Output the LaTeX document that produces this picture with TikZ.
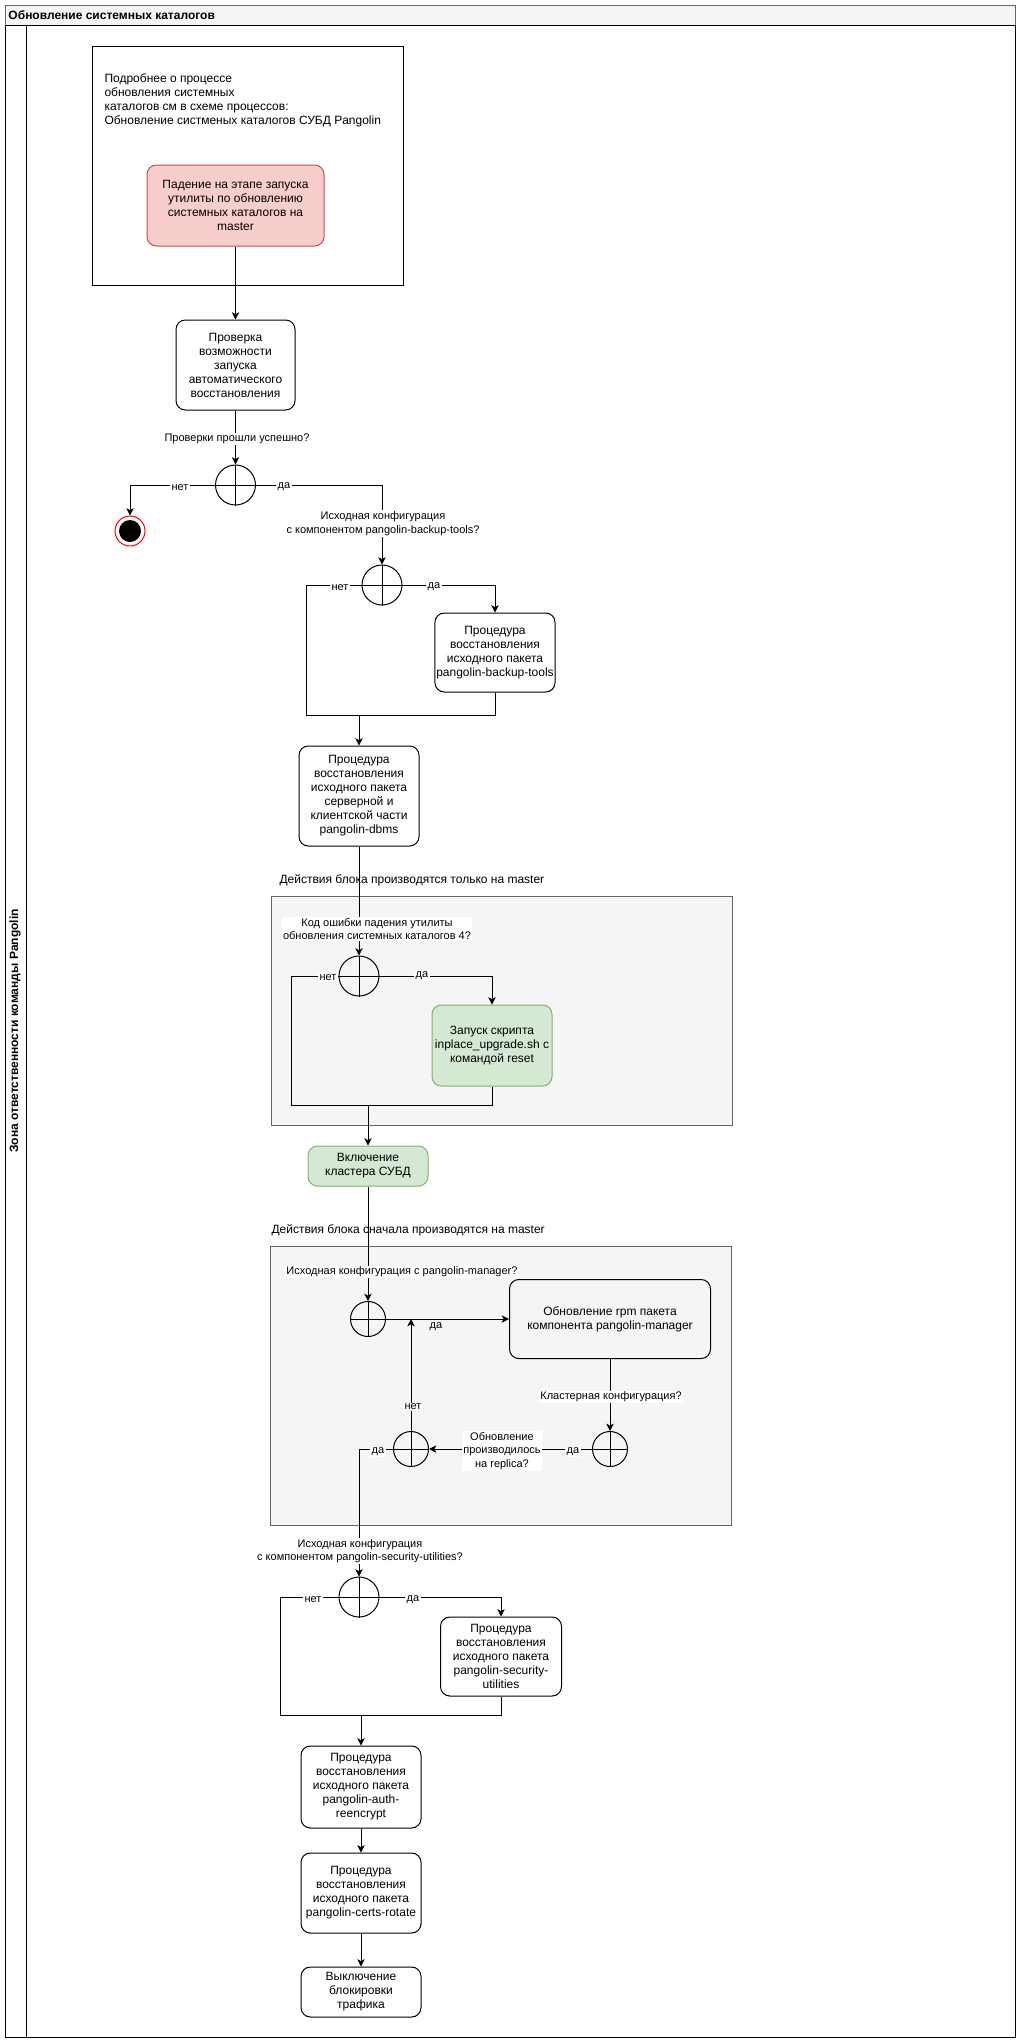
\documentclass[tikz,border=0pt]{standalone}
\usepackage{fontspec}
\setmainfont{Liberation Sans}
\usetikzlibrary{arrows.meta}
\definecolor{failfill}{HTML}{F8CECC}
\definecolor{faildraw}{HTML}{B85450}
\definecolor{okfill}{HTML}{D5E8D4}
\definecolor{okdraw}{HTML}{82B366}
\definecolor{grpfill}{HTML}{F5F5F5}
\definecolor{grpdraw}{HTML}{666666}

\begin{document}
\begin{tikzpicture}[x=0.75pt, y=-0.75pt, line width=0.75pt,
  font=\fontsize{9}{10.5}\selectfont,
  proc/.style={draw, rounded corners=7pt, align=center, inner sep=1pt},
  dec/.style={draw, circle, minimum size=#1, inner sep=0pt},
  dec/.default=30pt,
  lbl/.style={fill=white, inner sep=1pt, align=center, font=\fontsize{8.25}{10}\selectfont},
  note/.style={anchor=west, inner sep=0pt, align=left},
  grp/.style={draw=grpdraw, fill=grpfill, anchor=north west, inner sep=0pt},
  arr/.style={-{Stealth[length=5.5pt, width=5.5pt, inset=1.5pt]}}]
  \useasboundingbox (0,0) rectangle (1021,2042);
  % pool and lane
  \node[draw=grpdraw, fill=grpfill, anchor=north west, inner sep=0pt,
    minimum width=757.5pt, minimum height=15pt] (pool) at (5,5) {};
  \node[note, font=\fontsize{9}{10.5}\selectfont\bfseries] (pooltitle) at (8,15) {Обновление системных каталогов};
  \node[draw, anchor=north west, inner sep=0pt,
    minimum width=757.5pt, minimum height=1509pt] (lane) at (5,25) {};
  \draw (26,25) -- (26,2037);
  \node[rotate=90, inner sep=0pt, font=\fontsize{9}{10.5}\selectfont\bfseries] (lanetitle) at (15,1031)
    {Зона ответственности команды Pangolin};
  % blocks
  \node[draw, anchor=north west, inner sep=0pt, minimum width=233.25pt, minimum height=179.25pt] (info) at (92,46) {};
  \node[note] (infotext) at (104,100.5) {Подробнее о процессе\\обновления системных\\каталогов см в схеме процессов:\\Обновление систменых каталогов СУБД Pangolin};
  \node[grp, minimum width=345.75pt, minimum height=171.75pt] (blk1) at (271,896) {};
  \node[note] (blk1title) at (279,880) {Действия блока производятся только на master};
  \node[grp, minimum width=345.75pt, minimum height=209.25pt] (blk2) at (270,1246) {};
  \node[note] (blk2title) at (271,1230) {Действия блока сначала производятся на master};
  % steps
  \node[proc, fill=failfill, draw=faildraw, minimum width=132.75pt, minimum height=60.75pt] (fail) at (235.5,205.5)
    {Падение на этапе запуска\\утилиты по обновлению\\системных каталогов на\\master};
  \node[proc, minimum width=89.25pt, minimum height=67.5pt] (check) at (235.5,365)
    {Проверка\\возможности\\запуска\\автоматического\\восстановления};
  \node[dec] (d1) at (235.5,485) {};
  \node[circle, draw=red, fill=white, minimum size=22.5pt, inner sep=0pt] (stop) at (130,531) {};
  \fill (stop.center) circle[radius=8.25pt];
  \node[dec] (d2) at (382,585) {};
  \node[proc, minimum width=90pt, minimum height=59.25pt] (backup) at (495,652.5)
    {Процедура\\восстановления\\исходного пакета\\pangolin-backup-tools};
  \node[proc, minimum width=90pt, minimum height=75pt] (dbms) at (359,796)
    {Процедура\\восстановления\\исходного пакета\\серверной и\\клиентской части\\pangolin-dbms};
  \node[dec] (d3) at (359,976) {};
  \node[proc, fill=okfill, draw=okdraw, minimum width=90pt, minimum height=60.75pt] (reset) at (492,1045.5)
    {Запуск скрипта\\inplace\_upgrade.sh с\\командой reset};
  \node[proc, fill=okfill, draw=okdraw, minimum width=90pt, minimum height=30pt] (cluster) at (368,1166)
    {Включение\\кластера СУБД};
  \node[dec=26.25pt] (d4) at (368,1319) {};
  \node[proc, minimum width=150.75pt, minimum height=59.25pt] (manager) at (610,1319)
    {Обновление rpm пакета\\компонента pangolin-manager};
  \node[dec=26.25pt] (d5) at (610,1449) {};
  \node[dec=26.25pt] (d6) at (411,1449) {};
  \node[dec] (d7) at (359,1597) {};
  \node[proc, minimum width=90.75pt, minimum height=59.25pt] (security) at (501,1656.5)
    {Процедура\\восстановления\\исходного пакета\\pangolin-security-\\utilities};
  \node[proc, minimum width=90pt, minimum height=61.5pt] (auth) at (361,1787)
    {Процедура\\восстановления\\исходного пакета\\pangolin-auth-\\reencrypt};
  \node[proc, minimum width=90pt, minimum height=60pt] (certs) at (361,1893)
    {Процедура\\восстановления\\исходного пакета\\pangolin-certs-rotate};
  \node[proc, minimum width=90pt, minimum height=37.5pt] (traffic) at (361,1992)
    {Выключение\\блокировки\\трафика};
  % bends and joins
  \coordinate (k1) at (306,715);
  \coordinate (m1) at (359,715);
  \coordinate (k2) at (291,1105);
  \coordinate (m2) at (368,1105);
  \coordinate (j1) at (411,1319);
  \coordinate (k3) at (280,1715);
  \coordinate (m3) at (361,1715);
  % connectors
  \draw[arr] (fail) -- (check);
  \draw[arr] (check) -- (d1);
  \draw[arr] (d1.west) -| (stop);
  \draw[arr] (d1.east) -| (d2);
  \draw[arr] (d2.west) -| (k1) -- (m1) -- (dbms);
  \draw[arr] (d2.east) -| (backup);
  \draw (backup) |- (m1);
  \draw[arr] (dbms) -- (d3);
  \draw[arr] (d3.west) -| (k2) -- (m2) -- (cluster);
  \draw[arr] (d3.east) -| (reset);
  \draw (reset) |- (m2);
  \draw[arr] (cluster) -- (d4);
  \draw[arr] (d4) -- (manager);
  \draw[arr] (manager) -- (d5);
  \draw[arr] (d5) -- (d6);
  \draw[arr] (d6) -- (j1);
  \draw[arr] (d6.west) -| (d7);
  \draw[arr] (d7.west) -| (k3) -- (m3) -- (auth);
  \draw[arr] (d7.east) -| (security);
  \draw (security) |- (m3);
  \draw[arr] (auth) -- (certs);
  \draw[arr] (certs) -- (traffic);
  \foreach \d in {d1,d2,d3,d4,d5,d6,d7}
    \draw (\d.north) -- (\d.south) (\d.west) -- (\d.east);
  % labels
  \node[lbl] (q1) at (237,439) {Проверки прошли успешно?};
  \node[lbl] (n1) at (180,488) {нет};
  \node[lbl] (y1) at (284,487) {да};
  \node[lbl] (q2) at (383,523.5) {Исходная конфигурация\\с компонентом pangolin-backup-tools?};
  \node[lbl] (n2) at (340,588) {нет};
  \node[lbl] (y2) at (434,587) {да};
  \node[lbl] (q3) at (377,929) {Код ошибки падения утилиты\\обновления системных каталогов 4?};
  \node[lbl] (n3) at (328,978) {нет};
  \node[lbl] (y3) at (422,976) {да};
  \node[lbl] (q4) at (402,1272) {Исходная конфигурация с pangolin-manager?};
  \node[lbl, fill=none] (y4) at (436,1327) {да};
  \node[lbl] (q5) at (611,1397) {Кластерная конфигурация?};
  \node[lbl] (y5) at (573,1452) {да};
  \node[lbl] (q6) at (502,1451) {Обновление\\производилось\\на replica?};
  \node[lbl] (n6) at (413,1407) {нет};
  \node[lbl] (y6) at (378,1452) {да};
  \node[lbl] (q7) at (360,1551) {Исходная конфигурация\\с компонентом pangolin-security-utilities?};
  \node[lbl] (n7) at (313,1600) {нет};
  \node[lbl] (y7) at (413,1600) {да};
\end{tikzpicture}
\end{document}
